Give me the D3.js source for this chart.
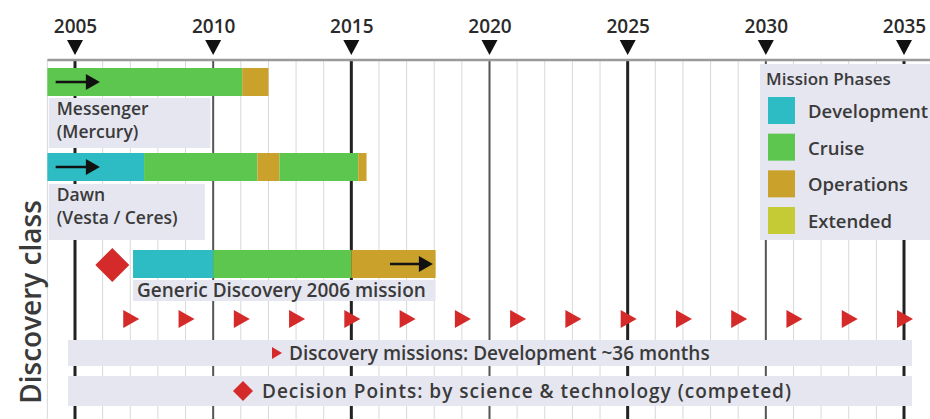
<!DOCTYPE html>
<html>
<head>
<meta charset="utf-8">
<script src="https://cdn.jsdelivr.net/npm/d3@7"></script>
<style>
  body { margin: 0; background: #fff; }
  text { font-family: "Open Sans", Lato, sans-serif; fill: #3a3a3a; font-weight: 600; }
</style>
</head>
<body>
<div class="canvas"></div>
<script>
const majorYears = [2005, 2010, 2015, 2020, 2025, 2030, 2035]
const minorYears = d3.range(2004, 2036)
const phases = ['Development', 'Cruise', 'Operations', 'Extended']
const phaseColors = ['#2dbcc3', '#5cc64f', '#c9a12b', '#c5cb34']

const missions = ['Messenger', 'Dawn', 'Generic']
const missionLabels = [['Messenger', '(Mercury)'], ['Dawn', '(Vesta / Ceres)'], ['Generic Discovery 2006 mission']]
const messengerSegments = [
    { phase: 'Cruise', start: 2004.0, end: 2011.05 },
    { phase: 'Operations', start: 2011.05, end: 2012.0 }
]
const dawnSegments = [
    { phase: 'Development', start: 2004.0, end: 2007.5 },
    { phase: 'Cruise', start: 2007.5, end: 2011.6 },
    { phase: 'Operations', start: 2011.6, end: 2012.4 },
    { phase: 'Cruise', start: 2012.4, end: 2015.25 },
    { phase: 'Operations', start: 2015.25, end: 2015.55 }
]
const genericSegments = [
    { phase: 'Development', start: 2007.1, end: 2010.0 },
    { phase: 'Cruise', start: 2010.0, end: 2015.0 },
    { phase: 'Operations', start: 2015.0, end: 2018.05 }
]
const decisionYear = 2006.35
const cadenceYears = [2007, 2009, 2011, 2013, 2015, 2017, 2019, 2021, 2023, 2025, 2027, 2029, 2031, 2033, 2035]
const noteTexts = ['Discovery missions: Development ~36 months', 'Decision Points: by science & technology (competed)']

const width = 930
const height = 419
const svg = d3.select('.canvas').append('svg').attr('width', width).attr('height', height)

const x = d3.scaleLinear().domain([2005, 2035]).range([75, 904])
const color = d3.scaleOrdinal().domain(phases).range(phaseColors)
const rowY = d3.scaleOrdinal().domain(missions).range([68, 153, 250])
const barH = 28
const lavender = '#e6e6f0'

// yearly grid lines
svg.append('g').selectAll('line').data(minorYears.filter(d => !majorYears.includes(d)))
    .enter().append('line')
    .attr('x1', d => x(d)).attr('x2', d => x(d))
    .attr('y1', 60).attr('y2', height)
    .attr('stroke', '#d8d8d8').attr('stroke-width', 1)

// major lines
svg.append('g').selectAll('line').data(majorYears)
    .enter().append('line')
    .attr('x1', d => x(d)).attr('x2', d => x(d))
    .attr('y1', 60).attr('y2', height)
    .attr('stroke', d => d % 10 === 5 ? '#222' : '#555')
    .attr('stroke-width', d => d % 10 === 5 ? 3 : 2)

// axis line
svg.append('line')
    .attr('x1', x(2004)).attr('x2', width)
    .attr('y1', 60).attr('y2', 60)
    .attr('stroke', '#9a9a9a').attr('stroke-width', 2.5)

const xAxis = d3.axisTop(x).tickValues(majorYears).tickSize(0).tickPadding(27).tickFormat(d3.format('d'))
const xAxisGroup = svg.append('g').attr('transform', 'translate(0, 60)').call(xAxis)
xAxisGroup.select('.domain').remove()
xAxisGroup.selectAll('text')
    .attr('font-size', 19).attr('font-weight', 'bold')
    .style('font-family', '"Open Sans", sans-serif').style('fill', '#2a2a2a')

// axis triangles
svg.append('g').selectAll('path').data(majorYears)
    .enter().append('path')
    .attr('d', d => `M${x(d) - 8},40 L${x(d) + 8},40 L${x(d)},55 Z`)
    .attr('fill', '#111')

// label boxes
const labelBoxes = [
    { m: 'Messenger', x0: 2004.05, x1: 2009.9, y0: 98, y1: 148 },
    { m: 'Dawn', x0: 2004.05, x1: 2009.7, y0: 184, y1: 240 },
    { m: 'Generic', x0: 2007.1, x1: 2018.05, y0: 280, y1: 301 }
]
svg.append('g').selectAll('rect').data(labelBoxes)
    .enter().append('rect')
    .attr('x', d => x(d.x0)).attr('width', d => x(d.x1) - x(d.x0))
    .attr('y', d => d.y0).attr('height', d => d.y1 - d.y0)
    .attr('fill', lavender)

missionLabels.forEach((lines, i) => {
    const b = labelBoxes[i]
    const lx = x(b.x0) + (i === 2 ? 4 : 8)
    lines.forEach((l, j) => svg.append('text')
        .attr('x', lx)
        .attr('y', b.y0 + 17 + j * 23)
        .attr('font-size', i === 2 ? 19 : 17.5)
        .text(l))
})

// bars
const allSegments = [messengerSegments, dawnSegments, genericSegments]
allSegments.forEach((segs, i) => {
    svg.append('g').selectAll('rect').data(segs)
        .enter().append('rect')
        .attr('x', d => x(d.start))
        .attr('width', d => x(d.end) - x(d.start))
        .attr('y', rowY(missions[i]))
        .attr('height', barH)
        .attr('fill', d => color(d.phase))
})

// arrows
const arrows = [
    { m: 'Messenger', a: 2004.3, b: 2005.9 },
    { m: 'Dawn', a: 2004.3, b: 2005.9 },
    { m: 'Generic', a: 2016.4, b: 2017.95 }
]
arrows.forEach(d => {
    const cy = rowY(d.m) + barH / 2
    svg.append('line').attr('x1', x(d.a)).attr('x2', x(d.b) - 8)
        .attr('y1', cy).attr('y2', cy).attr('stroke', '#111').attr('stroke-width', 2.5)
    svg.append('path')
        .attr('d', `M${x(d.b) - 14},${cy - 8} L${x(d.b)},${cy} L${x(d.b) - 14},${cy + 8} Z`)
        .attr('fill', '#111')
})

// decision diamond
const diamond = (cx, cy, r) => `M${cx},${cy - r} L${cx + r},${cy} L${cx},${cy + r} L${cx - r},${cy} Z`
svg.append('path').attr('d', diamond(x(decisionYear), 265, 17)).attr('fill', '#d42a2a')

// cadence triangles
svg.append('g').selectAll('path').data(cadenceYears)
    .enter().append('path')
    .attr('d', d => `M${x(d) - 7},${310} L${x(d) + 9},${319} L${x(d) - 7},${328} Z`)
    .attr('fill', '#d42a2a')

// bottom note bars
const notes = [{ y0: 340, y1: 366 }, { y0: 376, y1: 406 }]
svg.append('g').selectAll('rect').data(notes)
    .enter().append('rect')
    .attr('x', 68).attr('width', 912 - 68)
    .attr('y', d => d.y0).attr('height', d => d.y1 - d.y0)
    .attr('fill', lavender)

svg.append('path').attr('d', `M${272},${347} L${282},${353} L${272},${359} Z`).attr('fill', '#d42a2a')
svg.append('text').attr('x', 289).attr('y', 360).attr('font-size', 19).text(noteTexts[0])
svg.append('path').attr('d', diamond(243, 391, 10)).attr('fill', '#d42a2a')
svg.append('text').attr('x', 262).attr('y', 398).attr('font-size', 19).attr('letter-spacing', 1.0).text(noteTexts[1])

// legend
const legend = svg.append('g')
legend.append('rect').attr('x', 760).attr('y', 64).attr('width', 175).attr('height', 176).attr('fill', lavender)
legend.append('text').attr('x', 766).attr('y', 85).attr('font-size', 17).attr('font-weight', 'bold').text('Mission Phases')
const ly = d3.scalePoint().domain(phases).range([111, 221])
phases.forEach(p => {
    legend.append('rect').attr('x', 768).attr('y', ly(p) - 14).attr('width', 27).attr('height', 27).attr('fill', color(p))
    legend.append('text').attr('x', 808).attr('y', ly(p) + 7).attr('font-size', 18.5).text(p)
})

// y title
svg.append('text')
    .attr('transform', 'translate(41, 302) rotate(-90)')
    .attr('text-anchor', 'middle')
    .attr('font-size', 28)
    .attr('font-weight', 500)
    .text('Discovery class')
</script>
</body>
</html>
